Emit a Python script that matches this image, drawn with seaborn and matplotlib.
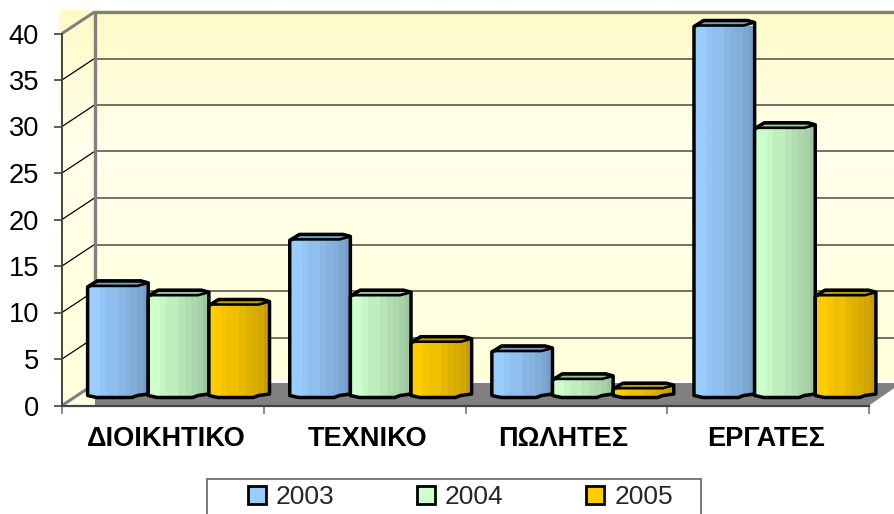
import numpy as np
import pandas as pd
import matplotlib
matplotlib.use("Agg")
import matplotlib.pyplot as plt
from matplotlib.colors import LinearSegmentedColormap, to_rgb
from matplotlib.patches import Polygon, Rectangle
import seaborn as sns

categories = ["ΔΙΟΙΚΗΤΙΚΟ", "ΤΕΧΝΙΚΟ", "ΠΩΛΗΤΕΣ", "ΕΡΓΑΤΕΣ"]
years = ["2003", "2004", "2005"]
values_2003 = [12, 17, 5, 40]
values_2004 = [11, 11, 2, 29]
values_2005 = [10, 6, 1, 11]
colors = ["#99CCFF", "#CCFFCC", "#FFCC00"]
y_ticks = [0, 5, 10, 15, 20, 25, 30, 35, 40]

W, H = 894, 514
sns.set_theme(style="white")
plt.rcParams["font.family"] = ["Liberation Sans", "DejaVu Sans"]
fig = plt.figure(figsize=(W / 100, H / 100), dpi=100, facecolor="white")


def rect(L, T, R, B):
    return [L / W, 1 - B / H, (R - L) / W, (B - T) / H]


# plot geometry in pixels
FX0, FX1, F0, F40 = 62, 869, 405.5, 33.5   # front plane
DX, DY = 32.5, -21.5                       # depth offset to the back wall
PX_PER_UNIT = (F0 - F40) / 40
BAR_BASE = 397.5
BAR_DX = 15.5
LABEL_PX = [166.5, 368, 563.5, 766]        # horizontal label centres

# background layer: walls, floor, grid, legend frame
bg = fig.add_axes(rect(0, 0, W, H), zorder=0)
wall_cmap = LinearSegmentedColormap.from_list(
    "wall", [(0, "#FFFBC6"), (0.38, "#FFFFEC"), (0.7, "#FFFFE2"), (1, "#FFFFDC")])
grad = np.linspace(0, 1, 256).reshape(-1, 1)
bg.imshow(grad, cmap=wall_cmap, extent=(59, W, 380, 10), aspect="auto", zorder=0)
bg.imshow(np.array([[1.0]]), cmap=wall_cmap, vmin=0, vmax=1,
          extent=(FX0, FX0 + DX, 404, 380), aspect="auto", zorder=0)
bx0 = FX0 + DX
bx1 = FX1 + DX
b0 = F0 + DY
floor = Polygon([(FX0 + 33, F0), (FX1, F0), (bx1, b0 - 1), (bx0, b0 - 1)],
                closed=True, fc="#808080", ec="none", zorder=1)
bg.add_patch(floor)
for v in y_ticks:
    yf = F0 - v * PX_PER_UNIT
    yb = yf + DY
    edge = v in (0, 40)
    bg.plot([FX0, bx0], [yf, yb], color="#808080" if edge else "black",
            lw=2.2 if edge else 0.9, zorder=2, solid_capstyle="butt")
    if v > 0:
        bg.plot([bx0, W], [yb, yb], color="#808080" if v == 40 else "#5a5a50",
                lw=2.4 if v == 40 else 1.2, zorder=2, solid_capstyle="butt")
bg.plot([bx0, bx0], [F40 + DY, b0], color="#808080", lw=2.4, zorder=2)
bg.add_patch(Rectangle((206.5, 478.5), 494.5, 50, fc="white", ec="#707070", lw=1.3,
                       zorder=2, clip_on=False))
bg.set_xlim(0, W)
bg.set_ylim(H, 0)
bg.axis("off")

# front plane: axes, ticks, labels
ax = fig.add_axes(rect(FX0, F40, FX1, F0), zorder=1)
ax.patch.set_alpha(0)
ax.set_xlim(-0.5, 3.5)
ax.set_ylim(0, 40)
ax.set_yticks(y_ticks)
ax.tick_params(axis="y", length=6, width=1.1, color="#333333", left=True, pad=10.5,
               labelsize=19.6, labelcolor="black")
ax.set_xticks(np.arange(-0.5, 4.0, 1.0))
ax.set_xticklabels([])
ax.tick_params(axis="x", which="major", length=6, width=1.3, color="#808080", bottom=True)
ax.set_xticks([(p - FX0) / (FX1 - FX0) * 4 - 0.5 for p in LABEL_PX], minor=True)
ax.set_xticklabels(categories, minor=True, fontweight="bold", fontsize=19.5, color="black")
ax.tick_params(axis="x", which="minor", length=0, pad=15)
for s in ("top", "right"):
    ax.spines[s].set_visible(False)
ax.spines["left"].set_color("#444444")
ax.spines["left"].set_linewidth(1.4)
ax.spines["bottom"].set_color("#444444")
ax.spines["bottom"].set_linewidth(1.6)

# bars
df = pd.DataFrame({
    "category": categories * 3,
    "year": [y for y in years for _ in categories],
    "value": values_2003 + values_2004 + values_2005,
})
bars_ax = fig.add_axes(rect(FX0 + BAR_DX, BAR_BASE - 40 * PX_PER_UNIT, FX1 + BAR_DX + 1.5, BAR_BASE),
                       zorder=2)
sns.barplot(data=df, x="category", y="value", hue="year", order=categories,
            hue_order=years, palette=colors, width=0.9, gap=0, errorbar=None,
            saturation=1, ax=bars_ax)
handles, labels = bars_ax.get_legend_handles_labels()
if bars_ax.get_legend():
    bars_ax.get_legend().remove()
bars_ax.set_xlim(-0.5, 3.5)
bars_ax.set_ylim(0, 40)
bars_ax.axis("off")

U = 1 / PX_PER_UNIT
SHADES = [1, 1, 0.97, 0.94, 0.94, 0.9, 0.87, 0.85, 0.82, 0.78]
z = 3
for container, col in zip(bars_ax.containers, colors):
    base = np.array(to_rgb(col))
    strip = np.array([[base * s for s in SHADES]])
    for patch in container:
        x0, w, h = patch.get_x(), patch.get_width(), patch.get_height()
        xr = lambda f: x0 + f * w
        outline = [(xr(0), h - 1 * U), (xr(.16), h + 5 * U), (xr(.88), h + 5 * U),
                   (xr(1), h + 3 * U), (xr(1), 3.5 * U), (xr(.82), 2 * U),
                   (xr(.73), 0), (xr(.15), 0), (xr(0), 2 * U)]
        top_face = [(xr(0), h - 1 * U), (xr(.16), h + 5 * U), (xr(.88), h + 5 * U),
                    (xr(1), h + 3 * U), (xr(.82), h), (xr(.07), h)]
        clip = Polygon(outline, closed=True, transform=bars_ax.transData, fc="none", ec="none")
        patch.set_edgecolor("none")
        patch.set_clip_path(clip)
        patch.set_clip_box(None)
        patch.set_zorder(z)
        im = bars_ax.imshow(strip, extent=(x0, x0 + w, 0, h + 6 * U), aspect="auto",
                            interpolation="nearest", zorder=z + 0.1)
        im.set_clip_path(clip)
        im.set_clip_box(None)
        bars_ax.add_patch(Polygon(top_face, closed=True, fc=base * 0.77, ec="black", lw=1.9,
                                  zorder=z + 0.2, clip_on=False, joinstyle="round"))
        bars_ax.add_patch(Polygon(outline, closed=True, fc="none", ec="black", lw=2.5,
                                  zorder=z + 0.3, clip_on=False, joinstyle="round"))
        z += 1
bars_ax.set_xlim(-0.5, 3.5)
bars_ax.set_ylim(0, 40)

# legend
for hd in handles:
    hd.set_edgecolor("black")
    hd.set_linewidth(2)
leg = fig.legend(handles, labels, ncol=3, frameon=False, fontsize=19,
                 handlelength=0.684, handleheight=0.684, handletextpad=0.38,
                 columnspacing=3.12, borderpad=0, borderaxespad=0,
                 loc="center left", bbox_to_anchor=(248 / W, 1 - 497 / H))
leg.set_zorder(5)

fig.savefig("out.png", dpi=100)
